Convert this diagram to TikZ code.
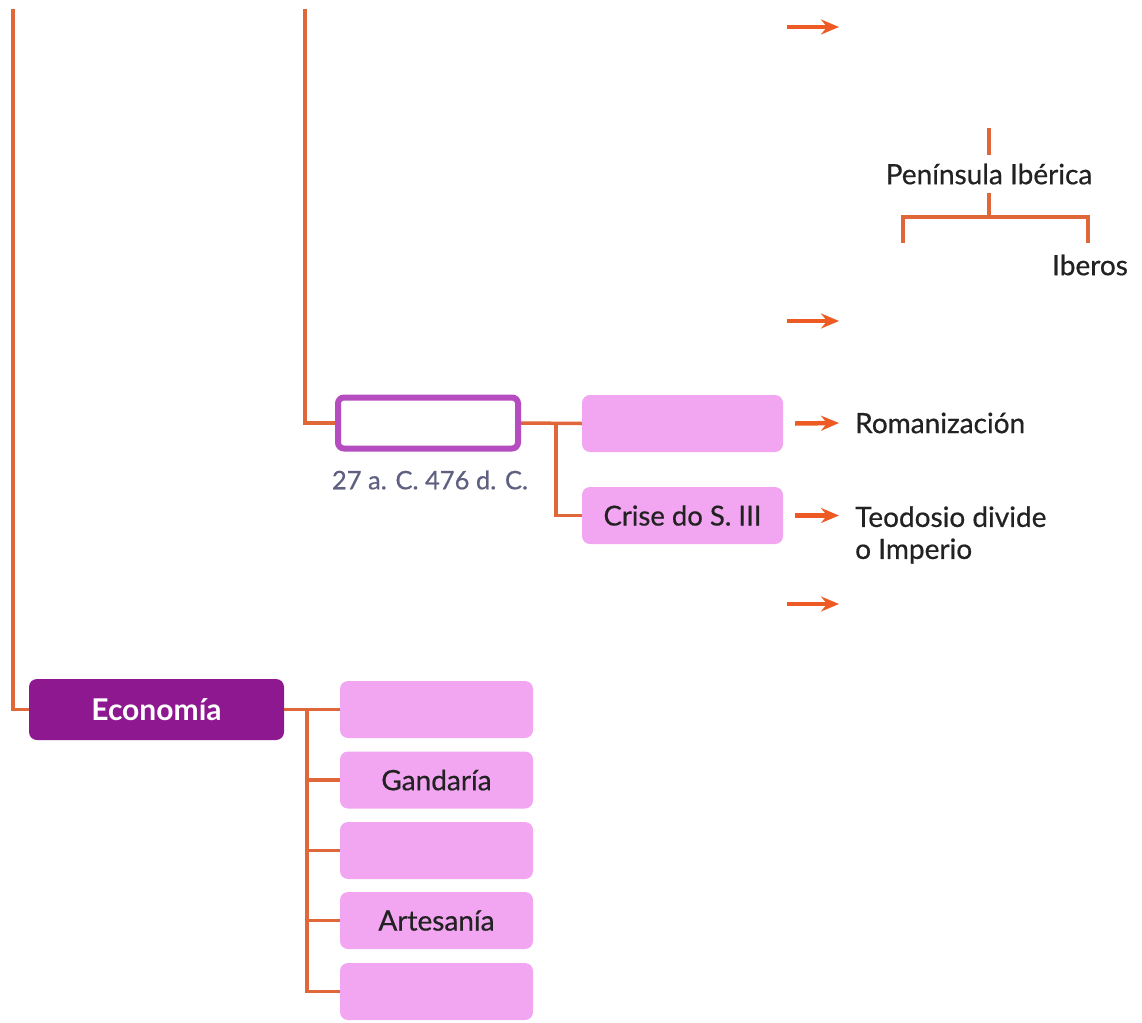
\documentclass[tikz,border=0pt]{standalone}
\usepackage{fontspec}
\setmainfont{Lato}
\newfontfamily\medfont[FakeBold=0.6]{Lato}
\usetikzlibrary{arrows.meta}
\definecolor{lineor}{HTML}{E0673A}
\definecolor{arrc}{HTML}{EE5A24}
\definecolor{pinkc}{HTML}{F2A6F2}
\definecolor{outc}{HTML}{B54CC0}
\definecolor{econc}{HTML}{8E1890}
\definecolor{datec}{HTML}{5F6080}
\definecolor{txtc}{HTML}{222222}
\begin{document}
\begin{tikzpicture}[x=1pt,y=-1pt,
  conn/.style={draw=lineor, line width=3.5pt},
  arr/.style={draw=arrc, line width=4.5pt, -{Stealth[length=18pt,width=15pt,inset=6pt]}},
  pinkbox/.style={fill=pinkc, rounded corners=8pt, minimum width=201pt, minimum height=57pt, inner sep=0pt, text=txtc, font=\medfont\fontsize{27.5}{32}\selectfont},
  ecobox/.style={fill=pinkc, rounded corners=8pt, minimum width=193pt, minimum height=57pt, inner sep=0pt, text=txtc, font=\medfont\fontsize{28}{32}\selectfont},
  outbox/.style={draw=outc, line width=6pt, fill=white, rounded corners=6pt, minimum width=180pt, minimum height=51pt, inner sep=0pt},
  mainbox/.style={fill=econc, rounded corners=8pt, minimum width=255pt, minimum height=61pt, inner sep=0pt, text=white, font=\bfseries\fontsize{30}{34}\selectfont},
  plain/.style={inner sep=0pt, text=txtc, font=\medfont\fontsize{28}{32}\selectfont},
]
\useasboundingbox (0,0) rectangle (1142,1022);

% nodes
\node[outbox] (epoch) at (428,423) {};
\node[inner sep=0pt, text=datec, font=\medfont\fontsize{25.5}{30}\selectfont] (date) at (430,480) {27 a. C. 476 d. C.};
\node[pinkbox] (r1) at (682.5,423.5) {};
\node[pinkbox] (crise) at (682.5,515.5) {Crise do S. III};
\node[plain, anchor=west] (roman) at (855,423) {Romanización};
\node[plain, anchor=west, align=left] (teo) at (855,535) {Teodosio divide\\o Imperio};

\node[mainbox] (eco) at (156.5,709.5) {Economía};
\node[ecobox] (e1) at (436.5,709.5) {};
\node[ecobox] (e2) at (436.5,780) {Gandaría};
\node[ecobox] (e3) at (436.5,850.5) {};
\node[ecobox] (e4) at (436.5,920.5) {Artesanía};
\node[ecobox] (e5) at (436.5,991.5) {};

\node[plain, minimum height=38pt] (pen) at (989,174) {Península Ibérica};
\node[plain] (ib) at (1090,265) {Iberos};

% coordinates
\coordinate (L0) at (13,9);
\coordinate (M0) at (305,9);
\coordinate (b1) at (556,423);
\coordinate (b2) at (307,709.5);
\coordinate (ptop) at (989,128);
\coordinate (pj) at (989,217);
\coordinate (bl) at (903,243);
\coordinate (br) at (1088,243);
\coordinate (a1s) at (787,27);  \coordinate (a1e) at (839,27);
\coordinate (a2s) at (787,321); \coordinate (a2e) at (839,321);
\coordinate (a4e) at (839,515.5);
\coordinate (a5s) at (787,604); \coordinate (a5e) at (839,604);

% connectors
\draw[conn] (L0) |- (eco.west);
\draw[conn] (M0) |- (epoch.west);
\draw[conn] (epoch.east) -- (r1.west);
\draw[conn] (b1) |- (crise.west);
\draw[conn] (eco.east) -- (e1.west);
\draw[conn] (b2) |- (e5.west);
\draw[conn] (b2 |- e2.west) -- (e2.west);
\draw[conn] (b2 |- e3.west) -- (e3.west);
\draw[conn] (b2 |- e4.west) -- (e4.west);

\draw[conn] (ptop) -- (pen.north);
\draw[conn] (pen.south) -- (pj);
\draw[conn] (bl) -- (bl |- pj) -| (br);

% arrows
\draw[arr] ([xshift=12pt]r1.east) -- ([xshift=-16pt]roman.west);
\draw[arr] ([xshift=12pt]crise.east) -- (a4e);
\draw[arr] (a1s) -- (a1e);
\draw[arr] (a2s) -- (a2e);
\draw[arr] (a5s) -- (a5e);
\end{tikzpicture}
\end{document}
